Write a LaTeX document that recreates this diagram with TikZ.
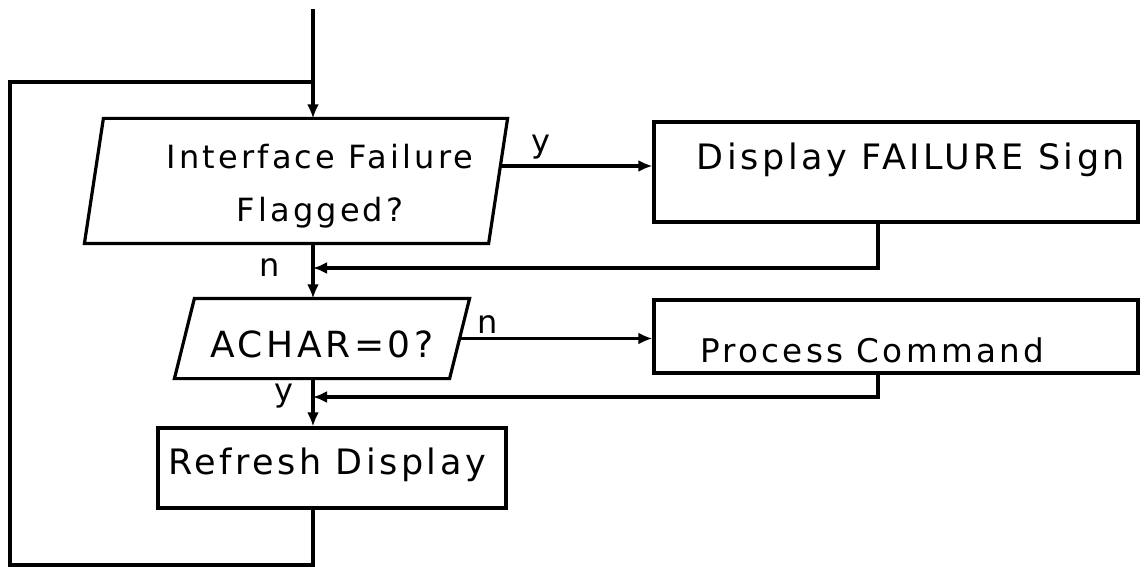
\documentclass[tikz,border=0pt]{standalone}
\usepackage{fontspec}
\setmainfont{DejaVu Sans}[LetterSpace=10]
\usetikzlibrary{arrows.meta, shapes.geometric, positioning, calc}

\begin{document}
\begin{tikzpicture}[x=0.5pt, y=-0.5pt, line width=1.6pt,
    flow/.style={-{Latex[length=7pt,width=6pt]}},
    decision/.style={rectangle, inner sep=0pt},
    stepbox/.style={rectangle, draw, inner sep=0pt},
    lbl/.style={font=\fontsize{16}{18}\selectfont}]
  \useasboundingbox (0,0) rectangle (1147,567);

  % decisions (slanted outline drawn from the node corners)
  \node[decision, minimum width=210pt, minimum height=61pt,
        label={[align=center, font=\fontsize{16}{26.5}\selectfont, xshift=12pt, yshift=-2.5pt]center:{Interface Failure\\Flagged?}}]
        (ifail) at (296,181) {};
  \draw ([xshift=9.5pt]ifail.north west) -- (ifail.north east)
        -- ([xshift=-9.5pt]ifail.south east) -- (ifail.south west) -- cycle;
  \node[decision, minimum width=146pt, minimum height=38.5pt,
        label={[font=\fontsize{18}{20}\selectfont, yshift=-3pt]center:ACHAR=0?}]
        (achar) at (322,338.5) {};
  \draw ([xshift=10pt]achar.north west) -- (achar.north east)
        -- ([xshift=-10pt]achar.south east) -- (achar.south west) -- cycle;

  % actions
  \node[stepbox, minimum width=242pt, minimum height=50pt,
        label={[font=\fontsize{17.5}{20}\selectfont, xshift=7.5pt, yshift=6pt]center:Display FAILURE Sign}]
        (disp) at (896,172) {};
  \node[stepbox, minimum width=242pt, minimum height=36.5pt,
        label={[font=\fontsize{16.3}{20}\selectfont, xshift=-12pt, yshift=-7pt]center:Process Command}]
        (proc) at (896,336.5) {};
  \node[stepbox, minimum width=174pt, minimum height=40pt,
        label={[font=\fontsize{17.5}{20}\selectfont, xshift=-2.5pt, yshift=1.5pt]center:Refresh Display}]
        (refresh) at (332,468) {};

  % branch labels
  \node[lbl] (yfail) at (541,147) {y};
  \node[lbl] (nfail) at (270,268) {n};
  \node[lbl] (nchar) at (488,325) {n};
  \node[lbl] (ychar) at (284,396) {y};

  % main line and loop
  \coordinate (entry) at (313,9);
  \coordinate (merge1) at (313,268);
  \coordinate (merge2) at (313,397);
  \coordinate (loopbot) at (313,565);
  \coordinate (loopleft) at (10,82);
  \coordinate (looptop) at (313,82);

  \draw[flow] (entry) -- (entry |- ifail.north);
  \draw[flow] (entry |- ifail.south) -- (entry |- achar.north);
  \draw[flow] (entry |- achar.south) -- (entry |- refresh.north);
  \draw (entry |- refresh.south) -- (loopbot) -| (loopleft) -- (looptop);

  % branches
  \draw[flow] ([xshift=-4pt,yshift=7.5pt]ifail.east) -- ([yshift=7.5pt]ifail.east -| disp.west);
  \draw[flow] ([xshift=-5pt]achar.east) -- (achar.east -| proc.west);
  \draw[flow] ([xshift=-9pt]disp.south) |- (merge1);
  \draw[flow] ([xshift=-9pt]proc.south) |- (merge2);
\end{tikzpicture}
\end{document}
